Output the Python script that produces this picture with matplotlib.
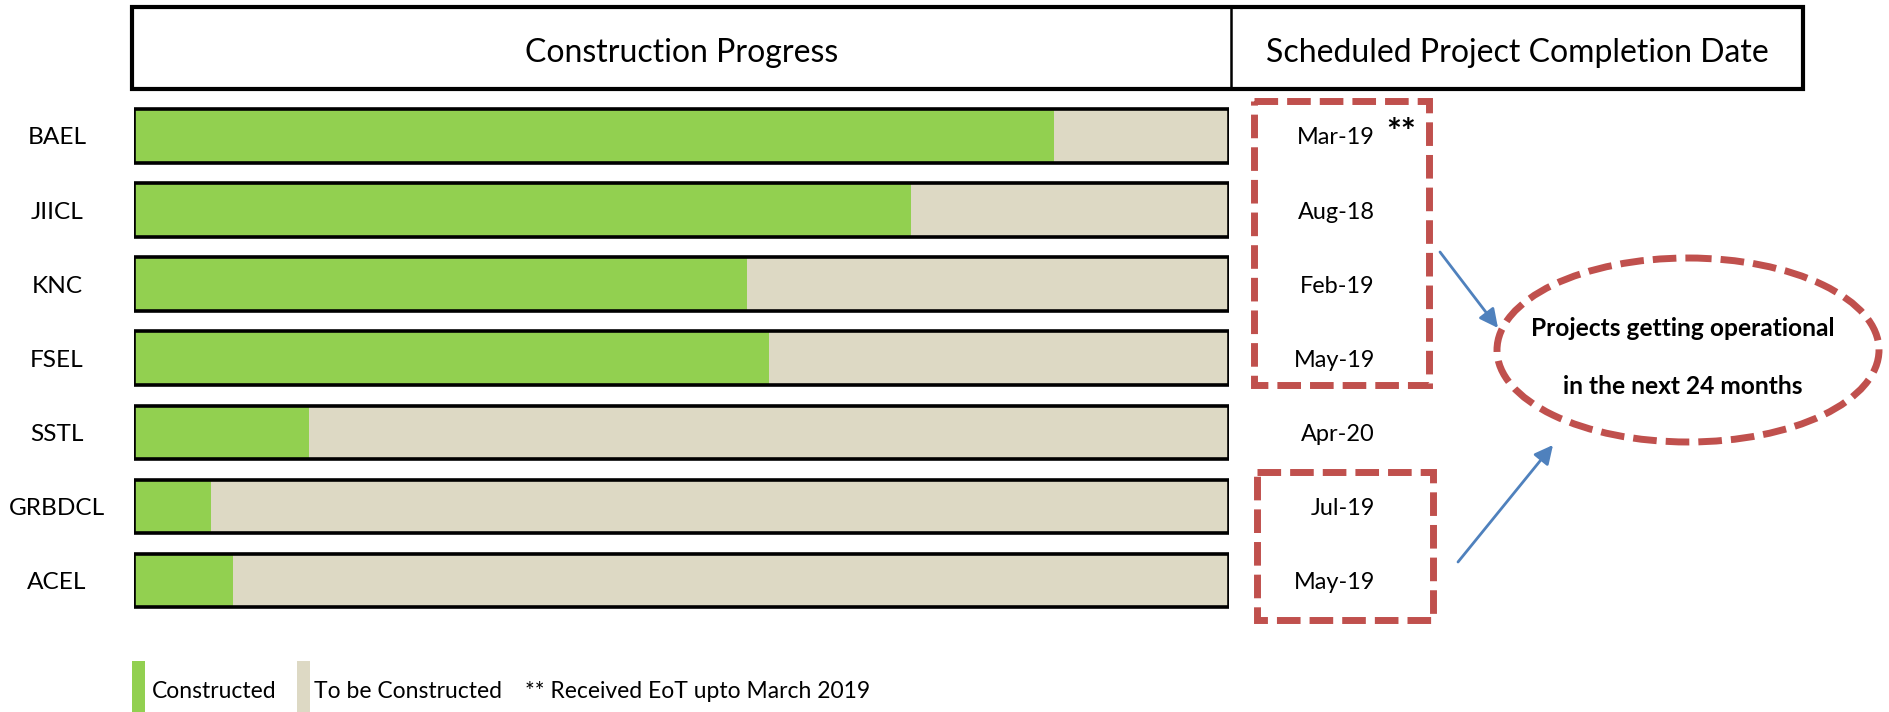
import matplotlib
matplotlib.use("Agg")
import matplotlib.pyplot as plt
import matplotlib.transforms as mtransforms
from matplotlib.patches import Rectangle, Ellipse

# ---------------- data ----------------
projects = ["BAEL", "JIICL", "KNC", "FSEL", "SSTL", "GRBDCL", "ACEL"]
constructed_pct = [84, 71, 56, 58, 16, 7, 9]
completion_dates = ["Mar-19", "Aug-18", "Feb-19", "May-19", "Apr-20", "Jul-19", "May-19"]
header_titles = ["Construction Progress", "Scheduled Project Completion Date"]
legend_labels = ["Constructed", "To be Constructed", "** Received EoT upto March 2019"]
callout_lines = ["Projects getting operational", "in the next 24 months"]
note_mark = "**"

GREEN = "#92D050"
BEIGE = "#DDD9C4"
RED = "#C0504D"
BLUE = "#4F81BD"

plt.rcParams["font.family"] = ["Lato", "DejaVu Sans"]

W, H = 1889, 712
fig = plt.figure(figsize=(W / 100, H / 100), dpi=100)
fig.patch.set_facecolor("white")
renderer = fig.canvas.get_renderer()


def size_for(text, target_px, weight="normal", base=20):
    """font size (pt) that makes `text` about target_px wide"""
    t = fig.text(0, 0, text, fontsize=base, fontweight=weight)
    w = t.get_window_extent(renderer).width
    t.remove()
    return base * target_px / w


# overlay axes in pixel coordinates (decorations)
ov = fig.add_axes([0, 0, 1, 1], zorder=0)
ov.set_xlim(0, W)
ov.set_ylim(H, 0)
ov.axis("off")

# bar axes
ax_l, ax_r = 134, 1229
ax_top, ax_bot = 98.96, 617.5
ax = fig.add_axes([ax_l / W, 1 - ax_bot / H, (ax_r - ax_l) / W, (ax_bot - ax_top) / H], zorder=2)
ax.patch.set_alpha(0)

n = len(projects)
ypos = list(range(n))
remaining = [100 - v for v in constructed_pct]
bh = 0.723
ax.barh(ypos, constructed_pct, height=bh, color=GREEN, edgecolor="none", zorder=2)
ax.barh(ypos, remaining, left=constructed_pct, height=bh, color=BEIGE, edgecolor="none", zorder=2)
ax.barh(ypos, [100] * n, height=bh, fill=False, edgecolor="black", linewidth=2.6, zorder=3)
ax.set_xlim(0, 100)
ax.set_ylim(n - 0.5, -0.5)
for s in ax.spines.values():
    s.set_visible(False)
ax.set_xticks([])
ax.set_yticks(ypos)
fs_lab = size_for("GRBDCL", 96)
ax.set_yticklabels(projects, fontsize=fs_lab, ha="center")
ax.tick_params(axis="y", length=0, pad=(ax_l - 57) * 0.72)

# header box
ov.add_patch(Rectangle((132, 7), 1803 - 132, 89 - 7, fill=False, edgecolor="black", linewidth=3.0, zorder=3))
ov.plot([1231, 1231], [7, 89], color="black", linewidth=1.8, zorder=3)
fs_h = size_for(header_titles[0], 314)
ov.text((132 + 1231) / 2, 50, header_titles[0], ha="center", va="center_baseline", fontsize=fs_h)
ov.text((1231 + 1803) / 2, 50, header_titles[1], ha="center", va="center_baseline", fontsize=fs_h)

# completion dates aligned to bar rows
blend = mtransforms.blended_transform_factory(ov.transData, ax.transData)
fs_d = size_for("Mar-19", 78)
for i, d in enumerate(completion_dates):
    ov.text(1375, i, d, transform=blend, ha="right", va="center_baseline", fontsize=fs_d, zorder=4)
ov.text(1386, -0.08, note_mark, transform=blend, ha="left", va="center_baseline",
        fontsize=fs_d * 1.5, fontweight="bold", zorder=4)

# dashed callout boxes
dash = (0, (3.4, 1.3))
ov.add_patch(Rectangle((1254, 101), 1429 - 1254, 385 - 101, fill=False, edgecolor=RED,
                       linewidth=5, linestyle=dash, zorder=3))
ov.add_patch(Rectangle((1257, 472), 1433 - 1257, 620 - 472, fill=False, edgecolor=RED,
                       linewidth=5, linestyle=dash, zorder=3))
ov.add_patch(Ellipse((1688, 350), 382, 184, fill=False, edgecolor=RED, linewidth=5,
                     linestyle=dash, zorder=3))
fs_c = size_for(callout_lines[0], 303, weight="bold")
ov.text(1683, 327, callout_lines[0], ha="center", va="center_baseline", fontsize=fs_c,
        fontweight="bold", zorder=4)
ov.text(1683, 384, callout_lines[1], ha="center", va="center_baseline", fontsize=fs_c,
        fontweight="bold", zorder=4)

# arrows
arrow_kw = dict(arrowstyle="-|>", color=BLUE, lw=2.0, mutation_scale=28, shrinkA=0, shrinkB=0)
ov.annotate("", xy=(1498, 328), xytext=(1440, 252), arrowprops=arrow_kw, zorder=4)
ov.annotate("", xy=(1553, 445), xytext=(1458, 562), arrowprops=arrow_kw, zorder=4)

# legend (manual)
fs_leg = size_for(legend_labels[0], 125)
ov.add_patch(Rectangle((132, 661), 13, 51, facecolor=GREEN, edgecolor="none"))
ov.add_patch(Rectangle((297, 661), 13, 51, facecolor=BEIGE, edgecolor="none"))
ov.text(152, 690, legend_labels[0], ha="left", va="center_baseline", fontsize=fs_leg)
ov.text(314, 690, legend_labels[1], ha="left", va="center_baseline", fontsize=fs_leg)
ov.text(525, 690, legend_labels[2], ha="left", va="center_baseline", fontsize=fs_leg)

fig.savefig("out.png", dpi=100, facecolor="white")
